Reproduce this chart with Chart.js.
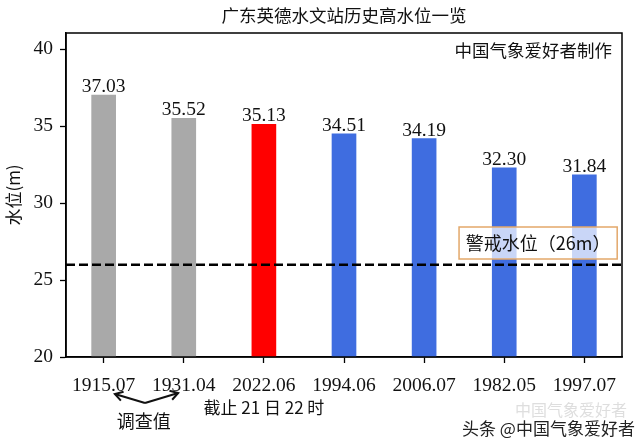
<!DOCTYPE html>
<html><head><meta charset="utf-8">
<script src="https://cdn.jsdelivr.net/npm/chart.js@4.4.0/dist/chart.umd.min.js"></script>
<style>html,body{margin:0;padding:0;background:#fff}#wrap{width:640px;height:443px}</style>
</head><body><div id="wrap"><canvas id="c" width="640" height="443"></canvas></div>
<script>
const categories = ['1915.07','1931.04','2022.06','1994.06','2006.07','1982.05','1997.07'];
const waterLevels = [37.03, 35.52, 35.13, 34.51, 34.19, 32.30, 31.84];
const barColors = ['#a9a9a9','#a9a9a9','#ff0000','#3f6de0','#3f6de0','#3f6de0','#3f6de0'];
const yTicks = [20, 25, 30, 35, 40];
const warningLevel = 26;
const titleText = '广东英德水文站历史高水位一览';
const yTitle = '水位(m)';
const creditText = '中国气象爱好者制作';
const warningLabel = '警戒水位（26m）';
const surveyLabel = '调查值';
const cutoffLabel = '截止 21 日 22 时';
const watermark = '头条 @中国气象爱好者';

const SANS = '"Noto Sans CJK SC", "Noto Sans", sans-serif';
const SERIF = '"Liberation Serif", "Times New Roman", serif';

function arrowLine(ctx, x0, y0, x1, y1) {
  ctx.beginPath(); ctx.moveTo(x0, y0); ctx.lineTo(x1, y1); ctx.stroke();
  const ang = Math.atan2(y1 - y0, x1 - x0);
  const L = 9, spread = 0.55;
  ctx.beginPath();
  ctx.moveTo(x1 - L * Math.cos(ang - spread), y1 - L * Math.sin(ang - spread));
  ctx.lineTo(x1, y1);
  ctx.lineTo(x1 - L * Math.cos(ang + spread), y1 - L * Math.sin(ang + spread));
  ctx.stroke();
}

const deco = {
  id: 'deco',
  beforeDraw(chart) {
    const ctx = chart.ctx;
    ctx.save(); ctx.fillStyle = '#fff'; ctx.fillRect(0, 0, chart.width, chart.height); ctx.restore();
  },
  afterDatasetsDraw(chart) {
    const { ctx, chartArea: a, scales: { x, y } } = chart;
    const meta = chart.getDatasetMeta(0);
    ctx.save();
    ctx.font = '19.5px ' + SERIF;
    ctx.fillStyle = '#111'; ctx.textAlign = 'center'; ctx.textBaseline = 'alphabetic';
    meta.data.forEach((bar, i) => ctx.fillText(waterLevels[i].toFixed(2), bar.x, bar.y - 3));
    // warning dashed line
    const yw = y.getPixelForValue(warningLevel);
    ctx.setLineDash([9, 4]); ctx.lineWidth = 2.5; ctx.strokeStyle = '#000';
    ctx.beginPath(); ctx.moveTo(a.left, yw); ctx.lineTo(a.right, yw); ctx.stroke();
    ctx.setLineDash([]);
    // warning label box
    const bx0 = x.getPixelForValue(4.436), bx1 = x.getPixelForValue(6.41);
    const by0 = y.getPixelForValue(28.45), by1 = y.getPixelForValue(26.37);
    ctx.fillStyle = 'rgba(255,255,255,0.72)';
    ctx.fillRect(bx0, by0, bx1 - bx0, by1 - by0);
    ctx.strokeStyle = '#e3a86a'; ctx.lineWidth = 1.5;
    ctx.strokeRect(bx0, by0, bx1 - bx0, by1 - by0);
    ctx.fillStyle = '#111'; ctx.font = '18px ' + SANS; ctx.textBaseline = 'middle';
    ctx.fillText(warningLabel, (bx0 + bx1) / 2, (by0 + by1) / 2);
    ctx.restore();
  },
  afterDraw(chart) {
    const { ctx, chartArea: a, scales: { x } } = chart;
    ctx.save();
    ctx.strokeStyle = '#000'; ctx.lineWidth = 1.5;
    ctx.strokeRect(a.left, a.top, a.right - a.left, a.bottom - a.top);
    ctx.fillStyle = '#111'; ctx.textBaseline = 'middle';
    ctx.font = '17.5px ' + SANS;
    ctx.textAlign = 'center';
    ctx.fillText(titleText, (a.left + a.right) / 2, 15);
    ctx.textAlign = 'right';
    ctx.fillText(creditText, a.right - 10, 50);
    // survey arrows
    ctx.lineWidth = 2; ctx.strokeStyle = '#111';
    const vx = x.getPixelForValue(0.516), vy = 403;
    arrowLine(ctx, vx, vy, x.getPixelForValue(0.14), 394);
    arrowLine(ctx, vx, vy, x.getPixelForValue(0.93), 393);
    ctx.font = '18px ' + SANS; ctx.textAlign = 'center';
    ctx.fillText(surveyLabel, x.getPixelForValue(0.5), 421);
    ctx.font = '17px ' + SANS;
    ctx.fillText(cutoffLabel, x.getPixelForValue(2), 408);
    // watermark
    ctx.fillStyle = 'rgba(190,190,190,0.5)'; ctx.font = '16px ' + SANS; ctx.textAlign = 'left';
    ctx.fillText('中国气象爱好者', 515, 410);
    ctx.fillStyle = '#222'; ctx.font = '17px ' + SANS;
    ctx.fillText(watermark, 462, 429);
    ctx.restore();
  }
};

new Chart(document.getElementById('c'), {
  type: 'bar',
  data: {
    datasets: [{
      data: waterLevels.map((v, i) => ({ x: i, y: v })),
      backgroundColor: barColors,
      borderWidth: 0,
      barThickness: 24
    }]
  },
  options: {
    responsive: false, animation: false, devicePixelRatio: 1,
    layout: { padding: { top: 33, right: 18, left: 0, bottom: 0 } },
    plugins: { legend: { display: false }, tooltip: { enabled: false }, title: { display: false } },
    scales: {
      x: {
        type: 'linear', min: -0.47, max: 6.47, offset: false,
        afterBuildTicks: s => { s.ticks = categories.map((c, i) => ({ value: i })); },
        afterFit: s => { s.height = 86; },
        ticks: { callback: v => categories[v], color: '#111', font: { family: SERIF, size: 19.5 }, padding: 11, maxRotation: 0, autoSkip: false },
        grid: { drawOnChartArea: false, offset: false, color: '#000', tickColor: '#000', tickWidth: 1.3, tickLength: 6 },
        border: { display: true, color: '#000', width: 1.5 }
      },
      y: {
        min: 20, max: 41.06,
        afterBuildTicks: s => { s.ticks = yTicks.map(v => ({ value: v })); },
        afterFit: s => { s.width = 66; },
        ticks: { color: '#111', font: { family: SERIF, size: 19.5 }, padding: 7 },
        grid: { drawOnChartArea: false, color: '#000', tickColor: '#000', tickWidth: 1.3, tickLength: 6 },
        border: { display: true, color: '#000', width: 1.5 },
        title: { display: true, text: yTitle, color: '#111', font: { family: SANS, size: 17 }, padding: { top: 3, bottom: 0 } }
      }
    }
  },
  plugins: [deco]
});
</script>
</body></html>
